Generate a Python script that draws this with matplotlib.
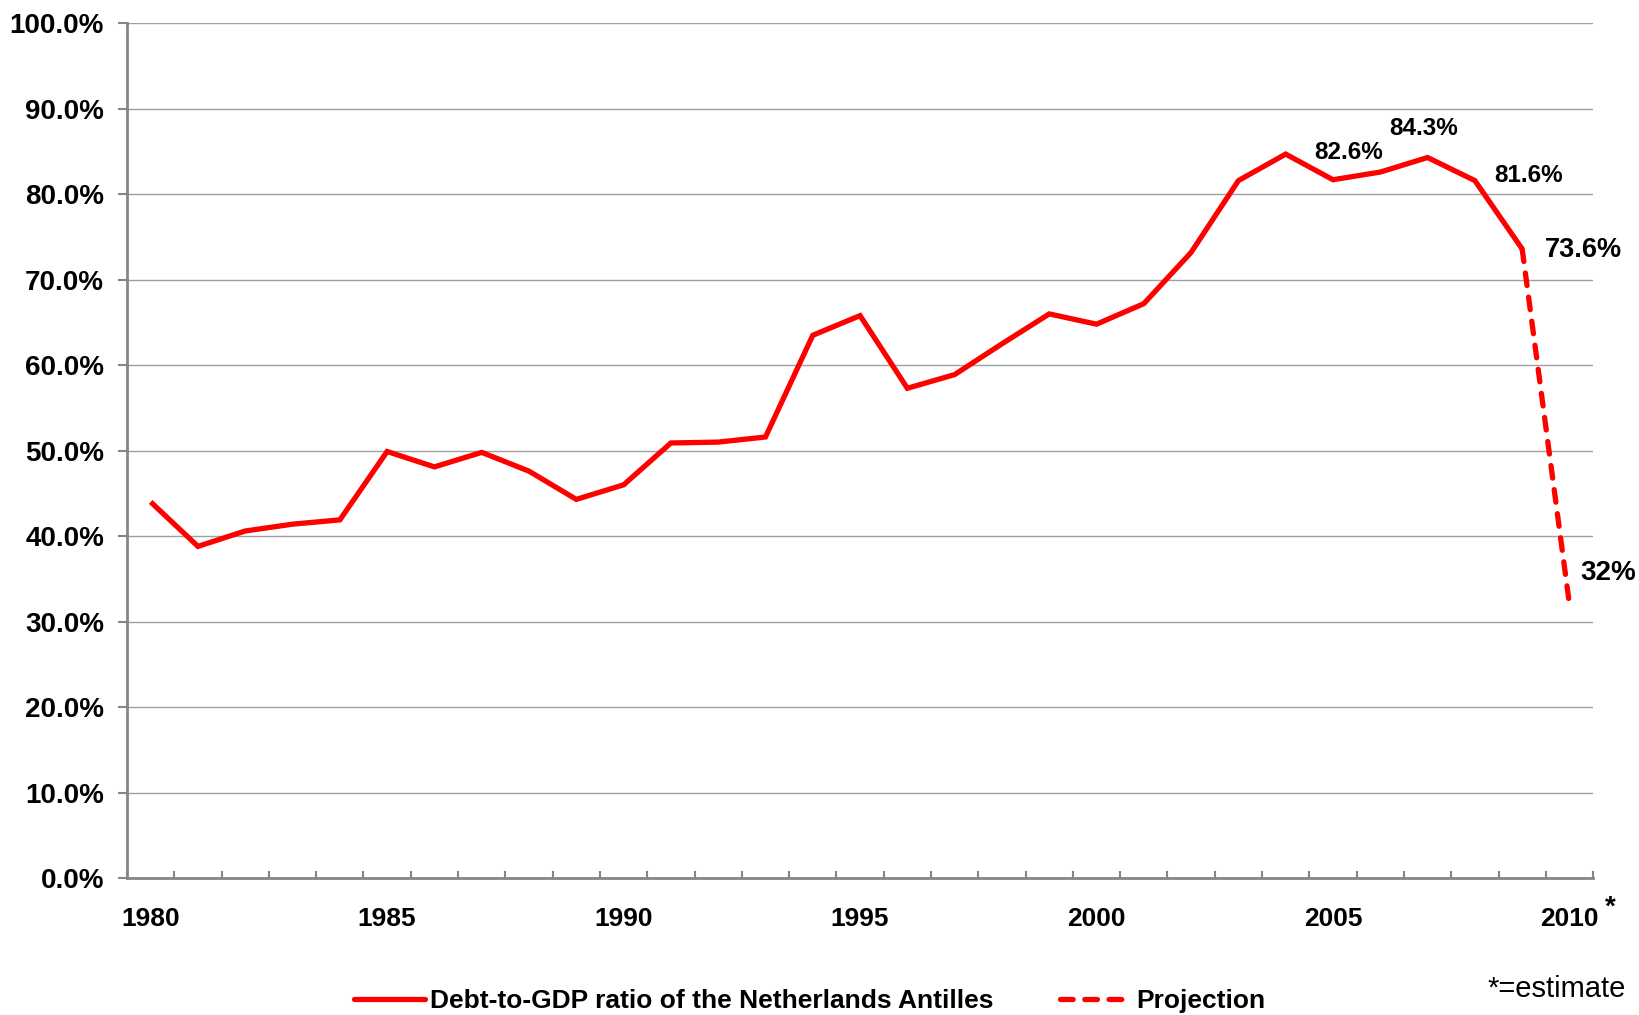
import matplotlib.pyplot as plt
from matplotlib.lines import Line2D
from matplotlib.ticker import FixedLocator, FuncFormatter

plt.rcParams['font.family'] = ['Liberation Sans', 'DejaVu Sans']

years = list(range(1980, 2010))
debt_ratio = [44.0, 38.8, 40.6, 41.4, 41.9, 49.9, 48.1, 49.8, 47.6, 44.3,
              46.0, 50.9, 51.0, 51.6, 63.5, 65.8, 57.3, 58.9, 62.5, 66.0,
              64.8, 67.2, 73.2, 81.6, 84.7, 81.7, 82.6, 84.3, 81.6, 73.6]
proj_years = [2009, 2010]
proj_ratio = [73.6, 32.0]

label_years = [1980, 1985, 1990, 1995, 2000, 2005, 2010]
y_ticks = [0, 10, 20, 30, 40, 50, 60, 70, 80, 90, 100]

# labelled points: year, value, offset in points, font size
callouts = [
    (2006, 82.6, (-23, 14), 17.5),
    (2007, 84.3, (-3, 21), 17.5),
    (2008, 81.6, (39, 4), 17.5),
    (2009, 73.6, (44, -1), 19.5),
    (2010, 32.0, (28, 23), 20),
]

red = '#FF0000'
axis_grey = '#868686'

fig = plt.figure(figsize=(16.39, 10.15), dpi=100)
ax = fig.add_axes([0.0775, 0.135, 0.8945, 0.842])

ax.plot(years, debt_ratio, color=red, lw=3.8, solid_joinstyle='miter',
        solid_capstyle='butt', zorder=3)
ax.plot(proj_years, proj_ratio, color=red, lw=3.8, dashes=(2.4, 2.2),
        dash_capstyle='round', zorder=3)

for yr, val, off, fs in callouts:
    ax.annotate(f'{val:g}%' if yr == 2010 else f'{val:.1f}%', xy=(yr, val),
                xytext=off, textcoords='offset points', ha='center',
                va='center', fontsize=fs, fontweight='bold')

ax.set_xlim(1979.5, 2010.5)
ax.set_ylim(0, 100)

ax.set_yticks(y_ticks)
ax.yaxis.set_major_formatter(FuncFormatter(lambda v, p: f'{v:.1f}%'))
ax.tick_params(axis='y', direction='out', length=6.5, width=1.5,
               color=axis_grey, pad=10, labelsize=20)
for lbl in ax.get_yticklabels():
    lbl.set_fontweight('bold')

ax.set_xticks(label_years)
ax.set_xticklabels([str(y) for y in label_years], fontsize=19,
                   fontweight='bold')
ax.tick_params(axis='x', which='major', length=0, pad=21)
ax.xaxis.set_minor_locator(FixedLocator([1979.5 + k for k in range(32)]))
ax.tick_params(axis='x', which='minor', direction='in', length=5,
               width=1.5, color=axis_grey)

ax.grid(axis='y', color='#a0a0a0', lw=1.0, zorder=0)

for side in ['top', 'right']:
    ax.spines[side].set_visible(False)
for side in ['left', 'bottom']:
    ax.spines[side].set_color(axis_grey)
    ax.spines[side].set_linewidth(2)

fig.text(0.9825, 0.106, '*', fontsize=20, fontweight='bold',
         ha='center', va='center')
fig.text(0.992, 0.026, '*=estimate', fontsize=21, ha='right', va='center')

handles = [
    Line2D([], [], color=red, lw=3.8, solid_capstyle='round'),
    Line2D([], [], color=red, lw=3.8, dashes=(2.4, 2.2),
           dash_capstyle='round'),
]
fig.legend(handles, ['Debt-to-GDP ratio of the Netherlands Antilles',
                     'Projection'],
           loc='center', bbox_to_anchor=(0.494, 0.0135), ncol=2,
           frameon=False, handlelength=2.7, handletextpad=0.2,
           columnspacing=2.5, prop={'size': 19, 'weight': 'bold'})

fig.savefig('out.png', dpi=100)
